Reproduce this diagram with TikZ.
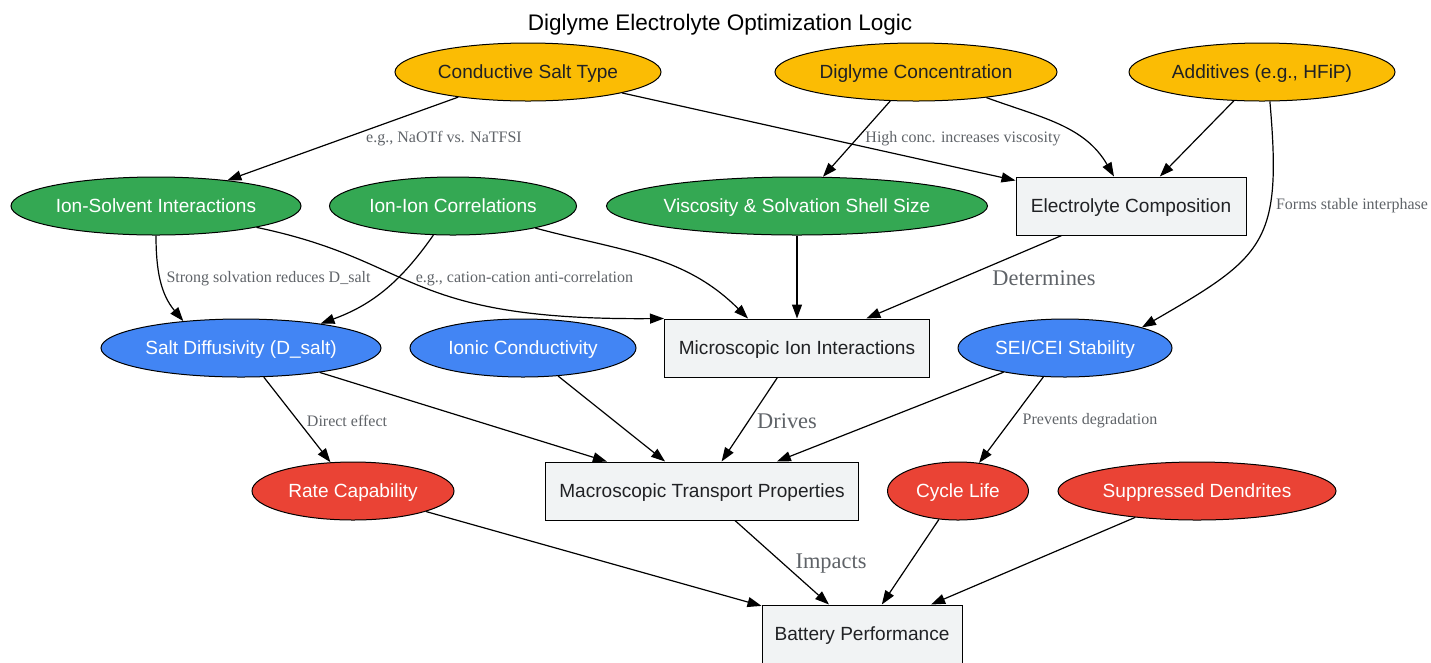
\documentclass[tikz,border=0pt]{standalone}
\usepackage{fontspec}
\setmainfont{Liberation Sans}
\newfontfamily\lblfont{Liberation Serif}
\usetikzlibrary{shapes.geometric,arrows.meta}
\definecolor{gyellow}{HTML}{FBBC04}
\definecolor{ggreen}{HTML}{34A853}
\definecolor{gblue}{HTML}{4285F4}
\definecolor{gred}{HTML}{EA4335}
\definecolor{boxgray}{HTML}{F1F3F4}
\definecolor{lblgray}{HTML}{5F6368}
\definecolor{darktext}{HTML}{202124}
\tikzset{
  oval/.style={ellipse, draw=black, line width=0.75pt, inner sep=0pt,
    minimum height=43.5pt, text height=10.2pt, text depth=0pt,
    font=\fontsize{14.3}{17}\selectfont},
  inputnode/.style={oval, fill=gyellow, text=darktext},
  factornode/.style={oval, fill=ggreen, text=white},
  propnode/.style={oval, fill=gblue, text=white},
  outnode/.style={oval, fill=gred, text=white},
  stagebox/.style={rectangle, draw=black, line width=0.75pt, fill=boxgray,
    text=darktext, minimum height=43.5pt, inner sep=0pt,
    text height=10.2pt, text depth=0pt, font=\fontsize{14.3}{17}\selectfont},
  link/.style={-{Triangle[length=10.5pt,width=7.5pt]}, line width=0.9pt},
  lbl/.style={text=lblgray, font=\lblfont\fontsize{12}{14}\selectfont},
  biglbl/.style={text=lblgray, font=\lblfont\fontsize{16.8}{20}\selectfont}
}
\begin{document}
\begin{tikzpicture}[x=0.75pt, y=-0.75pt]
            \useasboundingbox (0,0) rectangle (1431,662);
            \node[font=\fontsize{16.9}{20}\selectfont] (title) at (720,25) {Diglyme Electrolyte Optimization Logic};
            \node[inputnode, minimum width=199.5pt] (salt) at (528,72) {Conductive Salt Type};
            \node[inputnode, minimum width=211.5pt] (conc) at (916,72) {Diglyme Concentration};
            \node[inputnode, minimum width=199.5pt] (add) at (1262,72) {Additives (e.g., HFiP)};
            \node[factornode, minimum width=217.5pt] (ionsolv) at (156,206) {Ion-Solvent Interactions};
            \node[factornode, minimum width=185.25pt] (ionion) at (453,206) {Ion-Ion Correlations};
            \node[factornode, minimum width=285.75pt] (visc) at (797,206) {Viscosity \& Solvation Shell Size};
            \node[stagebox, minimum width=172.5pt] (comp) at (1131,206) {Electrolyte Composition};
            \node[propnode, minimum width=210pt] (diff) at (241,348) {Salt Diffusivity (D\_salt)};
            \node[propnode, minimum width=169.5pt] (cond) at (523,348) {Ionic Conductivity};
            \node[stagebox, minimum width=198.75pt] (micro) at (797,348) {Microscopic Ion Interactions};
            \node[propnode, minimum width=160.5pt] (sei) at (1065,348) {SEI/CEI Stability};
            \node[outnode, minimum width=151.5pt] (rate) at (353,491) {Rate Capability};
            \node[stagebox, minimum width=234.75pt] (macro) at (702,491) {Macroscopic Transport Properties};
            \node[outnode, minimum width=105.75pt] (cycle) at (958,491) {Cycle Life};
            \node[outnode, minimum width=208.5pt] (dendr) at (1197,491) {Suppressed Dendrites};
            \node[stagebox, minimum width=150pt] (batt) at (862,634) {Battery Performance};
            \draw[link] (salt) -- (ionsolv);
            \draw[link] (salt) -- (comp);
            \draw[link] (conc) -- (visc);
            \draw[link] (conc) to[out=-20,in=120] (comp);
            \draw[link] (add) -- (comp);
            \draw[link] (add.-75) to[out=-85,in=30,looseness=1.4] (sei.15);
            \draw[link] (ionsolv.south) to[out=-90,in=130] (diff.155);
            \draw[link] (ionsolv.-12) .. controls +(163,34) and +(-263,2) .. (micro.north west);
            \draw[link] (ionion.-124) to[out=-125,in=20] (diff.17);
            \draw[link] (ionion.-15) to[out=-15,in=135] ([xshift=-36.75pt]micro.north);
            \draw[link] (visc) -- (micro);
            \draw[link] (comp) -- (micro);
            \draw[link] (diff) -- (rate);
            \draw[link] (diff) -- (macro);
            \draw[link] (cond) -- (macro);
            \draw[link] (micro) -- (macro);
            \draw[link] (sei) -- (macro);
            \draw[link] (sei) -- (cycle);
            \draw[link] (rate) -- (batt);
            \draw[link] (macro) -- (batt);
            \draw[link] (cycle) -- (batt);
            \draw[link] (dendr) -- (batt);
            \node[lbl] (l1) at (444,139) {e.g., NaOTf vs. NaTFSI};
            \node[lbl] (l2) at (963,139) {High conc. increases viscosity};
            \node[lbl] (l3) at (1352,206) {Forms stable interphase};
            \node[lbl] (l4) at (268.5,279) {Strong solvation reduces D\_salt};
            \node[lbl] (l5) at (524.5,279) {e.g., cation-cation anti-correlation};
            \node[biglbl] (l6) at (1044,278) {Determines};
            \node[lbl] (l7) at (347,421) {Direct effect};
            \node[biglbl] (l8) at (787,421) {Drives};
            \node[lbl] (l9) at (1090,421) {Prevents degradation};
            \node[biglbl] (l10) at (831,564) {Impacts};
\end{tikzpicture}
\end{document}
